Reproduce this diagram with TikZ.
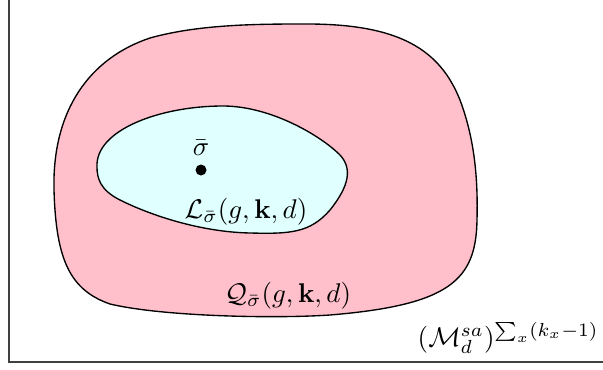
\documentclass[tikz,border=0pt]{standalone}
\usepackage{amsmath}
\usepackage{tikz}
\usetikzlibrary{positioning, calc}
\definecolor{setpink}{HTML}{FFC0CB}
\definecolor{setcyan}{HTML}{E0FFFF}

\begin{document}
\begin{tikzpicture}[
    x=0.013cm, y=-0.013cm,
    outerset/.style={draw=black, fill=setpink, line width=0.5pt},
    innerset/.style={draw=black, fill=setcyan, line width=0.5pt},
    frameline/.style={draw=black!75, line width=0.7pt},
    setlabel/.style={inner sep=1pt}
]
\useasboundingbox (0,0) rectangle (603,369);

% ambient space frame
\draw[frameline] (9,0) -- (9,362) -- (603,362);

% outer set Q
\draw[outerset] (307,24) .. controls (400,24) and (440,50) .. (460,100)
    .. controls (475,140) and (478,180) .. (477,220)
    .. controls (476,280) and (450,305) .. (330,315)
    .. controls (270,319) and (160,316) .. (110,304)
    .. controls (70,290) and (56,260) .. (54,190)
    .. controls (52,110) and (90,58) .. (150,38)
    .. controls (200,24) and (260,24) .. cycle;

% inner set L
\draw[innerset] (97,167) .. controls (95,130) and (160,106) .. (223,106)
    .. controls (270,106) and (320,135) .. (340,155)
    .. controls (352,168) and (350,185) .. (330,210)
    .. controls (310,233) and (290,234) .. (250,233)
    .. controls (200,232) and (150,215) .. (120,200)
    .. controls (100,190) and (97,178) .. cycle;

% point and labels
\fill (201,170) coordinate (sigma) circle (5.5);
\node[setlabel, above=4pt of sigma] (sigmalabel) {$\bar{\sigma}$};
\node[setlabel] (llabel) at (246,212) {$\mathcal{L}_{\bar{\sigma}}(g,\mathbf{k},d)$};
\node[setlabel] (qlabel) at (288,296) {$\mathcal{Q}_{\bar{\sigma}}(g,\mathbf{k},d)$};
\node[setlabel, anchor=south east] (mlabel) at (602,357) {$(\mathcal{M}_d^{sa})^{\sum_x (k_x-1)}$};

\end{tikzpicture}
\end{document}
